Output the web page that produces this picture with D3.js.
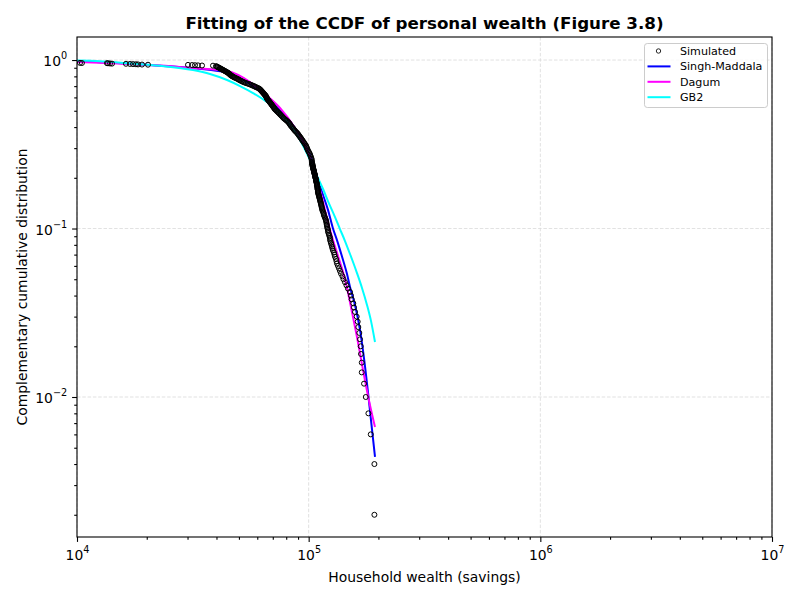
<!DOCTYPE html>
<html lang="en">
<head>
  <meta charset="UTF-8">
  <title>Fitting of the CCDF of personal wealth</title>
  <script src="https://d3js.org/d3.v7.min.js"></script>
  <style>
    body {
      margin: 0;
      background: #fff;
    }
    svg text {
      font-family: "DejaVu Sans", sans-serif;
      fill: #000;
    }
    .tick line {
      stroke: #000;
      stroke-width: 1.1;
    }
    .domain {
      display: none;
    }
    .grid line {
      stroke: #d9d9d9;
      stroke-width: 0.8;
      stroke-dasharray: 3.5 1.8;
    }
    .fit {
      fill: none;
      stroke-width: 2;
    }
  </style>
</head>
<body>
  <svg width="800" height="600"></svg>

  <script>
    // simulated sample: [household wealth, empirical CCDF]
    const simulated = [
      [10300, 0.962], [10500, 0.960], [13470, 0.958], [13610, 0.956], [13880, 0.954], [14160, 0.952],
      [16270, 0.950], [16930, 0.948], [17450, 0.946], [17970, 0.944], [18340, 0.942], [19080, 0.940],
      [20250, 0.938], [30140, 0.936], [31370, 0.934], [32310, 0.932], [33290, 0.930], [34640, 0.928],
      [38640, 0.926],
      [39810, 0.92], [40410, 0.91], [41020, 0.90], [41630, 0.89], [42260, 0.88], [42890, 0.87],
      [43540, 0.86], [44200, 0.85], [44860, 0.84], [45310, 0.83], [45760, 0.82], [46220, 0.81],
      [46910, 0.80], [47620, 0.79], [48570, 0.78], [49550, 0.77], [50290, 0.76], [51300, 0.75],
      [52330, 0.74], [53650, 0.73], [55280, 0.72], [56670, 0.71], [58090, 0.70], [59260, 0.69],
      [60750, 0.68], [61660, 0.67], [62280, 0.66], [62900, 0.65], [63530, 0.64], [64160, 0.63],
      [64800, 0.62], [65450, 0.61], [65780, 0.60], [66100, 0.59], [66760, 0.58], [67430, 0.57],
      [68100, 0.56], [68780, 0.55], [69470, 0.54], [70160, 0.53], [70860, 0.52], [71570, 0.51],
      [72640, 0.50], [73730, 0.49], [74840, 0.48], [75960, 0.47], [77100, 0.46], [78260, 0.45],
      [79830, 0.44], [81430, 0.43], [82650, 0.42], [83470, 0.41], [84730, 0.40], [86000, 0.39],
      [87290, 0.38], [89040, 0.37], [90380, 0.36], [91740, 0.35], [93110, 0.34], [94510, 0.33],
      [95930, 0.32], [97370, 0.31], [98340, 0.30], [99340, 0.29], [100830, 0.28], [101830, 0.27],
      [102850, 0.26], [103360, 0.25],
      [103360, 0.244], [103870, 0.240], [103870, 0.236], [104390, 0.232], [104390, 0.228], [104900, 0.224],
      [105420, 0.220], [105420, 0.216], [105940, 0.212], [106470, 0.208], [106470, 0.204], [107000, 0.200],
      [107530, 0.196], [107530, 0.192], [108060, 0.188], [108600, 0.184], [108600, 0.180], [109140, 0.176],
      [109140, 0.172], [109680, 0.168], [109680, 0.164], [110230, 0.160], [110770, 0.156], [111320, 0.152],
      [111870, 0.148], [112430, 0.144], [112990, 0.140], [113550, 0.136], [114110, 0.132], [114680, 0.128],
      [115830, 0.124], [116400, 0.120], [117580, 0.116], [118760, 0.112], [119350, 0.108], [119950, 0.104],
      [120550, 0.100], [121150, 0.098], [121150, 0.096], [121760, 0.094], [122360, 0.092], [122970, 0.090],
      [123580, 0.088], [123580, 0.086], [124200, 0.084], [124820, 0.082], [125440, 0.080], [126070, 0.078],
      [126700, 0.076], [127330, 0.074], [128600, 0.072], [129240, 0.070], [129880, 0.068], [131170, 0.066],
      [131820, 0.064], [132480, 0.062], [133800, 0.060], [135140, 0.058], [136490, 0.056], [137850, 0.054],
      [139930, 0.052], [141330, 0.050], [143460, 0.048], [145610, 0.046], [147800, 0.044], [150760, 0.042],
      [152270, 0.040], [153330, 0.038], [155800, 0.036], [156900, 0.034], [158480, 0.032], [161190, 0.030],
      [162800, 0.028], [163780, 0.026], [165420, 0.024], [166600, 0.022], [167800, 0.020], [168300, 0.018],
      [169500, 0.016], [169500, 0.014], [173400, 0.012], [176400, 0.010], [181100, 0.008], [185400, 0.006],
      [192200, 0.004], [192200, 0.002]
    ];

    // further sample points read inside the dense black band
    const simulatedDense = [
      [40110, 0.915], [40710, 0.905], [41320, 0.895], [41940, 0.885], [42570, 0.875], [43210, 0.865],
      [43870, 0.855], [44530, 0.845], [45080, 0.835], [45530, 0.825], [45990, 0.815], [46560, 0.805],
      [47260, 0.795], [48090, 0.785], [49060, 0.775], [49920, 0.765], [50790, 0.755], [51810, 0.745],
      [52990, 0.735], [54460, 0.725], [55970, 0.715], [57380, 0.705], [58670, 0.695], [60000, 0.685],
      [61200, 0.675], [61970, 0.665], [62590, 0.655], [63210, 0.645], [63840, 0.635], [64480, 0.625],
      [65120, 0.615], [65610, 0.605], [65940, 0.595], [66430, 0.585], [67090, 0.575], [67760, 0.565],
      [68440, 0.555], [69120, 0.545], [69810, 0.535], [70510, 0.525], [71210, 0.515], [72100, 0.505],
      [73180, 0.495], [74280, 0.485], [75400, 0.475], [76530, 0.465], [77680, 0.455], [79040, 0.445],
      [80630, 0.435], [82040, 0.425], [83060, 0.415], [84100, 0.405], [85360, 0.395], [86640, 0.385],
      [88160, 0.375], [89710, 0.365], [91060, 0.355], [92420, 0.345], [93810, 0.335], [95220, 0.325],
      [96650, 0.315], [97850, 0.305], [98840, 0.295], [100080, 0.285], [101330, 0.275], [102340, 0.265],
      [103100, 0.255],
      [103360, 0.246], [103610, 0.242], [103870, 0.238], [104130, 0.234], [104390, 0.230], [104640, 0.226],
      [105160, 0.222], [105420, 0.218], [105680, 0.214], [106200, 0.210], [106470, 0.206], [106730, 0.202],
      [107260, 0.198], [107530, 0.194], [107790, 0.190], [108330, 0.186], [108600, 0.182], [108870, 0.178],
      [109140, 0.174], [109410, 0.170], [109680, 0.166], [109950, 0.162], [110500, 0.158], [111040, 0.154],
      [111590, 0.150], [112150, 0.146], [112710, 0.142], [113270, 0.138], [113830, 0.134], [114390, 0.130],
      [115250, 0.126], [116110, 0.122], [116990, 0.118], [118170, 0.114], [119050, 0.110], [119650, 0.106],
      [120250, 0.102]
    ];

    // fitted CCDF curves
    const singhMaddala = [
      [10000, 0.982], [16440, 0.953], [22820, 0.925], [31680, 0.893], [44420, 0.840], [55830, 0.720],
      [64800, 0.620], [75210, 0.505], [87290, 0.395], [96410, 0.313], [103360, 0.255], [109730, 0.194],
      [115340, 0.158], [121150, 0.129], [127330, 0.100], [132480, 0.0854], [140720, 0.0650],
      [146400, 0.0537], [150820, 0.0450], [158480, 0.0352], [166600, 0.0250], [173300, 0.0170],
      [180300, 0.0107], [185780, 0.0073], [193350, 0.00441]
    ];
    const dagum = [
      [10000, 0.975], [16440, 0.950], [22820, 0.927], [31680, 0.895], [44420, 0.860], [55830, 0.740],
      [64800, 0.628], [75210, 0.519], [87290, 0.395], [96410, 0.313], [103360, 0.245], [109730, 0.186],
      [115340, 0.144], [121150, 0.109], [127330, 0.0855], [133890, 0.0687], [140720, 0.0552],
      [146400, 0.0444], [153800, 0.0319], [161650, 0.0227], [171600, 0.0145], [182100, 0.00954],
      [193350, 0.00664]
    ];
    const gb2 = [
      [10000, 0.993], [12570, 0.985], [16440, 0.958], [22820, 0.925], [31680, 0.872], [37510, 0.826],
      [44420, 0.761], [50540, 0.701], [57520, 0.637], [66100, 0.563], [77490, 0.459], [91740, 0.335],
      [101330, 0.255], [108640, 0.205], [115340, 0.1716], [121150, 0.1456], [129950, 0.117],
      [136490, 0.0993], [143500, 0.0843], [150820, 0.0706], [161650, 0.0544], [169900, 0.0444],
      [178550, 0.0352], [185780, 0.0283], [193350, 0.0212]
    ];

    const series = [
      {name: "Singh-Maddala", color: "#0000ff", data: singhMaddala},
      {name: "Dagum", color: "#ff00ff", data: dagum},
      {name: "GB2", color: "#00ffff", data: gb2}
    ];

    const xDomain = [1e4, 1e7];
    const yDomain = [1.476e-3, 1.37];
    const xMajor = [1e4, 1e5, 1e6, 1e7];
    const yMajor = [1e-2, 1e-1, 1];

    const svg = d3.select("svg"),
          margin = {top: 37, right: 28, bottom: 63, left: 77},
          width = +svg.attr("width") - margin.left - margin.right,
          height = +svg.attr("height") - margin.top - margin.bottom;

    const g = svg.append("g").attr("transform", `translate(${margin.left},${margin.top})`);

    const x = d3.scaleLog().domain(xDomain).range([0, width]);
    const y = d3.scaleLog().domain(yDomain).range([height, 0]);

    // minor ticks at 2..9 of each decade inside the domain
    function minorTicks(domain) {
      const out = [];
      for (let e = Math.floor(Math.log10(domain[0])); e <= Math.ceil(Math.log10(domain[1])); e++) {
        for (let m = 2; m <= 9; m++) {
          const v = m * Math.pow(10, e);
          if (v >= domain[0] && v <= domain[1]) out.push(v);
        }
      }
      return out;
    }

    function powLabel(text, v) {
      const e = Math.round(Math.log10(v));
      text.text(null);
      text.append("tspan").text("10");
      text.append("tspan")
        .attr("dy", "-7")
        .style("font-size", "9.7px")
        .text(e < 0 ? "\u2212" + (-e) : String(e));
    }

    // grid
    g.append("g").attr("class", "grid")
      .selectAll("line").data(xMajor).join("line")
      .attr("x1", d => x(d)).attr("x2", d => x(d))
      .attr("y1", 0).attr("y2", height);
    g.append("g").attr("class", "grid")
      .selectAll("line").data(yMajor).join("line")
      .attr("y1", d => y(d)).attr("y2", d => y(d))
      .attr("x1", 0).attr("x2", width);

    // clip
    svg.append("defs").append("clipPath").attr("id", "plot-clip")
      .append("rect").attr("width", width).attr("height", height);

    const plot = g.append("g").attr("clip-path", "url(#plot-clip)");

    const line = d3.line()
      .x(d => x(d[0]))
      .y(d => y(d[1]))
      .curve(d3.curveMonotoneX);

    plot.selectAll(".fit")
      .data(series)
      .join("path")
      .attr("class", "fit")
      .attr("stroke", d => d.color)
      .attr("d", d => line(d.data));

    plot.selectAll("circle")
      .data(simulated.concat(simulatedDense))
      .join("circle")
      .attr("cx", d => x(d[0]))
      .attr("cy", d => y(d[1]))
      .attr("r", 2.5)
      .attr("fill", "none")
      .attr("stroke", "#000")
      .attr("stroke-width", 1);

    // axes
    g.append("g").attr("transform", `translate(0,${height})`)
      .call(d3.axisBottom(x).tickValues(minorTicks(xDomain)).tickSize(2.8).tickFormat(() => null));
    const xMaj = g.append("g").attr("transform", `translate(0,${height})`)
      .call(d3.axisBottom(x).tickValues(xMajor).tickSize(4.9).tickFormat(() => null));
    xMaj.selectAll(".tick text")
      .attr("y", 23).attr("dy", null)
      .style("font-size", "13.9px")
      .each(function(d) { powLabel(d3.select(this), d); });

    g.append("g")
      .call(d3.axisLeft(y).tickValues(minorTicks(yDomain)).tickSize(2.8).tickFormat(() => null));
    const yMaj = g.append("g")
      .call(d3.axisLeft(y).tickValues(yMajor).tickSize(4.9).tickFormat(() => null));
    yMaj.selectAll(".tick text")
      .attr("x", -9.8).attr("dy", "5.5")
      .style("font-size", "13.9px")
      .each(function(d) { powLabel(d3.select(this), d); });

    // frame
    g.append("rect")
      .attr("width", width).attr("height", height)
      .attr("fill", "none").attr("stroke", "#000").attr("stroke-width", 1.1);

    // titles
    svg.append("text")
      .attr("x", margin.left + width / 2).attr("y", 28.7)
      .attr("text-anchor", "middle")
      .style("font-size", "16.7px").style("font-weight", "bold")
      .text("Fitting of the CCDF of personal wealth (Figure 3.8)");

    svg.append("text")
      .attr("x", margin.left + width / 2).attr("y", 582)
      .attr("text-anchor", "middle")
      .style("font-size", "13.9px")
      .text("Household wealth (savings)");

    svg.append("text")
      .attr("transform", `translate(26.5,${margin.top + height / 2}) rotate(-90)`)
      .attr("text-anchor", "middle")
      .style("font-size", "13.9px")
      .text("Complementary cumulative distribution");

    // legend
    const legend = svg.append("g").attr("transform", "translate(644.5,43.5)");
    legend.append("rect")
      .attr("width", 123).attr("height", 64).attr("rx", 2.8)
      .attr("fill", "#fff").attr("fill-opacity", 0.8)
      .attr("stroke", "#cccccc").attr("stroke-width", 1);

    const rows = [{name: "Simulated", marker: true}].concat(series);
    rows.forEach((d, i) => {
      const yPos = 7.5 + i * 15.4;
      if (d.marker) {
        legend.append("circle")
          .attr("cx", 14).attr("cy", yPos).attr("r", 2.2)
          .attr("fill", "none").attr("stroke", "#111").attr("stroke-width", 0.9);
      } else {
        legend.append("line")
          .attr("x1", 3).attr("x2", 26).attr("y1", yPos).attr("y2", yPos)
          .attr("stroke", d.color).attr("stroke-width", 2);
      }
      legend.append("text")
        .attr("x", 35.5).attr("y", yPos + 4)
        .style("font-size", "11.1px")
        .text(d.name);
    });
  </script>
</body>
</html>
